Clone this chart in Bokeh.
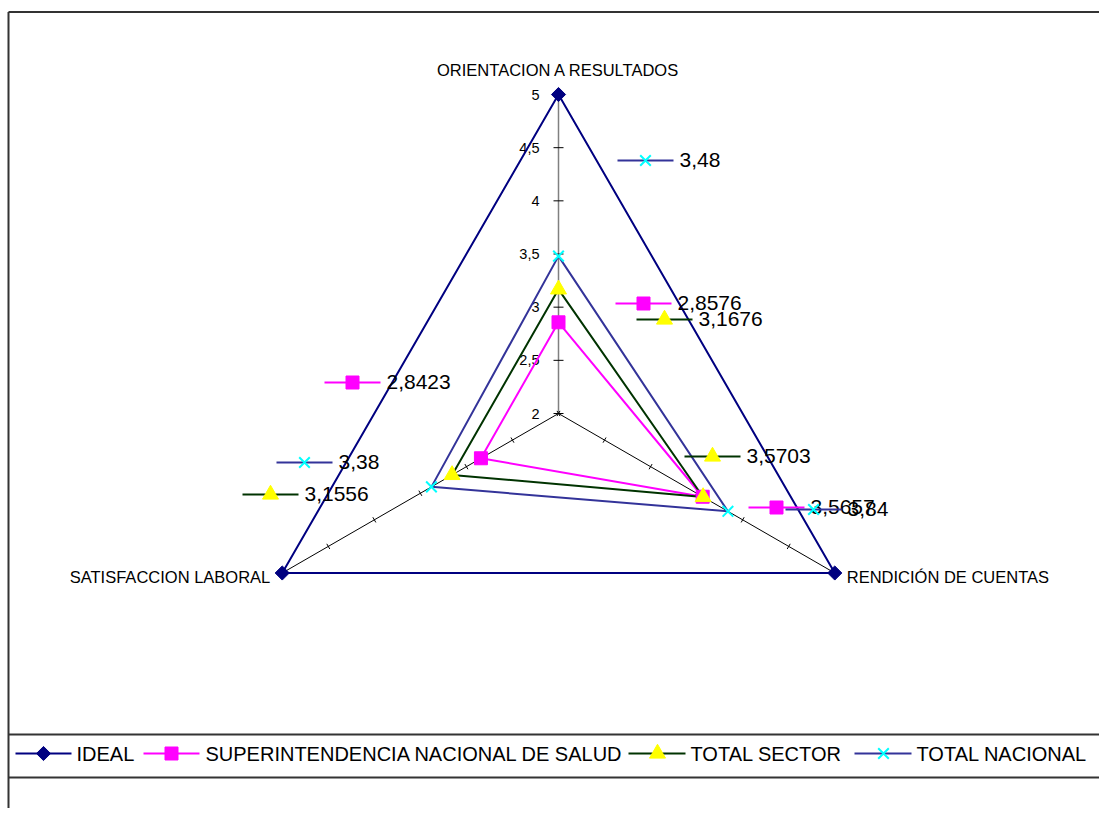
import numpy as np
from bokeh.plotting import figure
from bokeh.models import Range1d
from bokeh.core.properties import value
from bokeh.embed import file_html
from bokeh.resources import INLINE

# ---------------- data ----------------
categories = ["ORIENTACION A RESULTADOS", "RENDICIÓN DE CUENTAS", "SATISFACCION LABORAL"]
series_names = ["IDEAL", "SUPERINTENDENCIA NACIONAL DE SALUD", "TOTAL SECTOR", "TOTAL NACIONAL"]
ideal = [5, 5, 5]
superintendencia = [2.8576, 3.5657, 2.8423]
total_sector = [3.1676, 3.5703, 3.1556]
total_nacional = [3.48, 3.84, 3.38]
r_min, r_max = 2, 5
ticks = [2, 2.5, 3, 3.5, 4, 4.5, 5]
tick_labels = ["2", "2,5", "3", "3,5", "4", "4,5", "5"]

# ---------------- styles ----------------
W, H = 1099, 808
FONT = value("Liberation Sans")
line_colors = ["#000080", "#FF00FF", "#003300", "#333399"]
marker_types = ["square", "square", "triangle", "x"]
marker_fill = ["#000080", "#FF00FF", "#FFFF00", "#00FFFF"]
marker_size = [10, 13, 16, 15]
marker_angle = [np.pi / 4, 0, 0, 0]
series_values = [ideal, superintendencia, total_sector, total_nacional]

cx, cy = 558.0, 413.0
scale = 106.33  # px per unit
thetas = np.deg2rad([90, -30, 210])


def pt(v, k):
    r = (v - r_min) * scale
    return cx + r * np.cos(thetas[k]), cy - r * np.sin(thetas[k])


p = figure(width=W, height=H, x_range=Range1d(0, W), y_range=Range1d(H, 0),
           output_backend="svg", toolbar_location=None, min_border=0)
p.axis.visible = False
p.grid.visible = False
p.outline_line_color = None
p.background_fill_color = "white"
p.border_fill_color = "white"

# frame & legend box
p.line([8, 8], [11.5, H], line_color="#333333", line_width=2)
p.line([8, W], [11.5, 11.5], line_color="#333333", line_width=2)
p.line([8, W], [734, 734], line_color="#333333", line_width=2)
p.line([8, W], [777, 777], line_color="#333333", line_width=2)

# radial axes
for k in range(3):
    x0, y0 = pt(r_min, k)
    x1, y1 = pt(r_max, k)
    if k == 0:
        p.line([x0, x1], [y0, y1], line_color="#808080", line_width=1.5)
    else:
        p.line([x0, x1], [y0, y1], line_color="#000000", line_width=1)
    dx, dy = np.cos(thetas[k]), -np.sin(thetas[k])
    nx, ny = -dy, dx
    half = 5 if k == 0 else 3
    xs, ys = [], []
    for t in ticks:
        tx, ty = pt(t, k)
        xs.append([tx - nx * half, tx + nx * half])
        ys.append([ty - ny * half, ty + ny * half])
    p.multi_line(xs, ys, line_color="#000000", line_width=1)

# tick labels on the vertical axis
tx = [pt(t, 0)[0] - 19 for t in ticks]
ty = [pt(t, 0)[1] for t in ticks]
p.text(tx, ty, text=tick_labels, text_font=FONT, text_font_size=value("14.5px"),
       text_align="right", text_baseline="middle", text_color="#000000")

# category labels
CAT_FS = value("16.5px")
ox, oy = pt(r_max, 0)
p.text([ox], [oy - 25], text=[categories[0]], text_font=FONT, text_font_size=CAT_FS,
       text_align="center", text_baseline="middle", text_color="#000000")
rx, ry = pt(r_max, 1)
p.text([rx + 12], [ry + 4], text=[categories[1]], text_font=FONT, text_font_size=CAT_FS,
       text_align="left", text_baseline="middle", text_color="#000000")
sx, sy = pt(r_max, 2)
p.text([sx - 12], [sy + 4], text=[categories[2]], text_font=FONT, text_font_size=CAT_FS,
       text_align="right", text_baseline="middle", text_color="#000000")


def draw_marker(i, x, y):
    mt = marker_types[i]
    if mt == "x":
        p.scatter(x, y, marker="x", size=marker_size[i], line_color=marker_fill[i], line_width=2)
    else:
        p.scatter(x, y, marker=mt, size=marker_size[i], fill_color=marker_fill[i],
                  line_color=marker_fill[i], angle=marker_angle[i])


# series polygons
for i, vals in enumerate(series_values):
    pts = [pt(v, k) for k, v in enumerate(vals)]
    xs = [q[0] for q in pts] + [pts[0][0]]
    ys = [q[1] for q in pts] + [pts[0][1]]
    p.line(xs, ys, line_color=line_colors[i], line_width=2)
for i, vals in enumerate(series_values):
    pts = [pt(v, k) for k, v in enumerate(vals)]
    draw_marker(i, [q[0] for q in pts], [q[1] for q in pts])

# data labels with legend keys (marker centre positions, px)
label_pos = {
    (3, 0): (645, 160), (1, 0): (643, 303), (2, 0): (664, 319),
    (1, 2): (352, 382), (3, 2): (304, 462), (2, 2): (270, 494),
    (2, 1): (712, 456), (1, 1): (776, 507), (3, 1): (813, 509),
}
for (i, k), (mx, my) in label_pos.items():
    v = series_values[i][k]
    txt = ("%g" % v).replace(".", ",")
    p.line([mx - 28, mx + 28], [my, my], line_color=line_colors[i], line_width=2)
    draw_marker(i, [mx], [my])
    p.text([mx + 34], [my - 1], text=[txt], text_font=FONT, text_font_size=value("21px"),
           text_align="left", text_baseline="middle", text_color="#000000")

# legend
leg_y = 753
leg_keys = [(15, 71, 43, 76), (143, 199, 171, 205), (628, 685, 657, 690), (854, 911, 883, 916)]
for i, (x0, x1, mxk, txx) in enumerate(leg_keys):
    p.line([x0, x1], [leg_y, leg_y], line_color=line_colors[i], line_width=2)
    draw_marker(i, [mxk], [leg_y])
    p.text([txx], [leg_y], text=[series_names[i]], text_font=FONT, text_font_size=value("20px"),
           text_align="left", text_baseline="middle", text_color="#000000")

open("out.html", "w").write(file_html(p, INLINE))
